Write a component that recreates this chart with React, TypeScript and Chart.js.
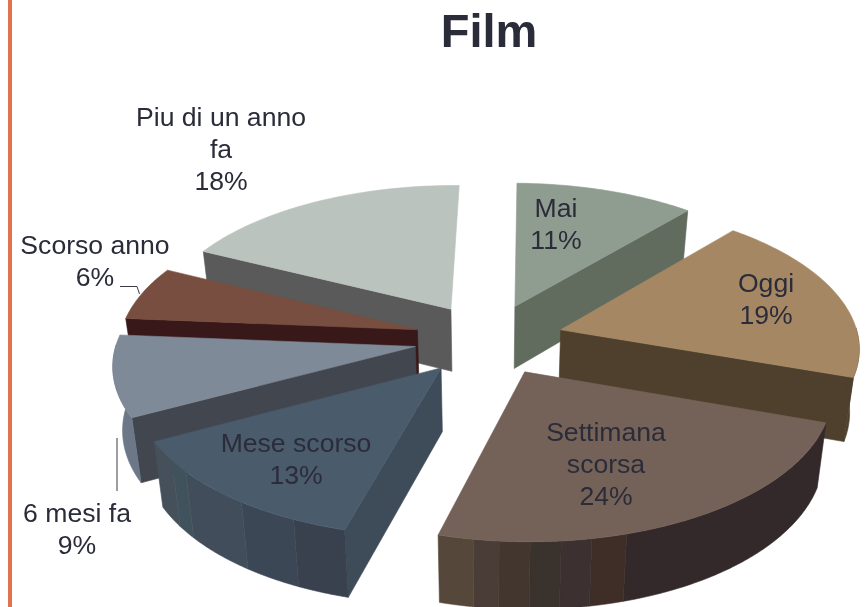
import React, { useEffect, useRef } from "react";
import { Chart, registerables } from "chart.js";

Chart.register(...registerables);

const categories = ["Mai", "Oggi", "Settimana scorsa", "Mese scorso", "6 mesi fa", "Scorso anno", "Piu di un anno fa"];
const shares = [11, 19, 24, 13, 9, 6, 18];

const topColors = ["#8f9c90", "#a58863", "#746258", "#4a5b6c", "#7f8a99", "#774e40", "#bac3be"];
const cutColors = ["#616c5f", "#4e402c", "#33282a", "#3e4b58", "#41464f", "#381818", "#5a5a5a"];
// [fraction of the slice's arc at which the band ends, band colour]
const rimBands: [number, string][][] = [
  [[1, "#616c5f"]],
  [[1, "#4e402c"]],
  [[0.63, "#33282a"], [0.7, "#3f2e28"], [0.76, "#3c3130"], [0.82, "#3a322c"], [0.88, "#42362f"], [0.93, "#4a3d38"], [1, "#55473a"]],
  [[0.2, "#39414f"], [0.43, "#3c4756"], [0.74, "#414d5a"], [0.84, "#40535c"], [1, "#45505a"]],
  [[1, "#6c7787"]],
  [[1, "#381818"]],
  [[1, "#5a5a5a"]],
];
const paintOrder = [6, 0, 5, 1, 4, 3, 2];

const labelLines = [["Mai", "11%"], ["Oggi", "19%"], ["Settimana", "scorsa", "24%"], ["Mese scorso", "13%"], ["6 mesi fa", "9%"], ["Scorso anno", "6%"], ["Piu di un anno", "fa", "18%"]];
const labelAnchors = [[556, 210], [766, 285], [606, 434], [296, 445], [77, 515], [95, 247], [221, 119]];
const leaders = [[[120, 286.5], [137, 286.5], [139.5, 294]], [[117, 438], [117, 491]]];

const SCALE_X = 298;
const SCALE_Y = 143.5;
const PERSPECTIVE = 0.11;
const DEPTH = 63;
const DEPTH_PERSPECTIVE = 0.06;
const CONVERGE = 0.974;
const TEXT = "#2b2c3a";
const FONT = '26.6px "Liberation Sans", Arial, sans-serif';

const pie3d = {
  id: "pie3d",
  beforeDatasetsDraw(chart: any) {
    const ctx = chart.ctx;
    const arcs = chart.getDatasetMeta(0).data;
    const poly = (pts: number[][], color: string) => {
      ctx.beginPath();
      pts.forEach((p, i) => (i ? ctx.lineTo(p[0], p[1]) : ctx.moveTo(p[0], p[1])));
      ctx.closePath();
      ctx.fillStyle = color;
      ctx.strokeStyle = color;
      ctx.lineWidth = 0.6;
      ctx.fill();
      ctx.stroke();
    };
    for (const i of paintOrder) {
      const arc = arcs[i];
      const { x: cx, y: cy, startAngle, endAngle, outerRadius } = arc.getProps(["x", "y", "startAngle", "endAngle", "outerRadius"], true);
      const e = arc.options.offset / 4 / outerRadius;
      const mid = (startAngle + endAngle) / 2;
      const u0 = Math.cos(mid) * e;
      const v0 = Math.sin(mid) * e;
      const top = (u: number, v: number) => {
        const f = 1 / (1 - PERSPECTIVE * v);
        return [cx + SCALE_X * u * f, cy + SCALE_Y * v * f];
      };
      const bottom = (u: number, v: number) => {
        const p = top(u, v);
        return [cx + (p[0] - cx) * CONVERGE, p[1] + DEPTH * (1 + DEPTH_PERSPECTIVE * v)];
      };
      const at = (a: number): [number, number] => [u0 + Math.cos(a), v0 + Math.sin(a)];
      const span = endAngle - startAngle;
      const STEPS = Math.ceil((span * 180) / Math.PI);

      // cut faces that turn towards the viewer
      if (-Math.cos(startAngle) > 0.05) {
        const [u, v] = at(startAngle);
        poly([top(u0, v0), top(u, v), bottom(u, v), bottom(u0, v0)], cutColors[i]);
      }
      if (Math.cos(endAngle) > 0.05) {
        const [u, v] = at(endAngle);
        poly([top(u0, v0), top(u, v), bottom(u, v), bottom(u0, v0)], cutColors[i]);
      }
      // outer rim, band by band
      let from = 0;
      for (const [to, color] of rimBands[i]) {
        const up: number[][] = [];
        const down: number[][] = [];
        for (let s = 0; s <= STEPS; s++) {
          const fr = from + ((to - from) * s) / STEPS;
          const a = startAngle + span * fr;
          if (Math.sin(a) < -0.02) continue;
          const [u, v] = at(a);
          up.push(top(u, v));
          down.unshift(bottom(u, v));
        }
        if (up.length > 1) poly(up.concat(down), color);
        from = to;
      }
      // top surface
      const face: number[][] = [top(u0, v0)];
      for (let s = 0; s <= STEPS; s++) {
        const [u, v] = at(startAngle + (span * s) / STEPS);
        face.push(top(u, v));
      }
      poly(face, topColors[i]);
    }
    return false;
  },
  afterDraw(chart: any) {
    const ctx = chart.ctx;
    ctx.save();
    ctx.fillStyle = TEXT;
    ctx.font = FONT;
    ctx.textAlign = "center";
    ctx.textBaseline = "middle";
    labelLines.forEach((lines, i) => {
      lines.forEach((line, j) => ctx.fillText(line, labelAnchors[i][0], labelAnchors[i][1] + j * 32));
    });
    ctx.strokeStyle = "#3a3a44";
    ctx.lineWidth = 1;
    leaders.forEach((pts) => {
      ctx.beginPath();
      pts.forEach((p, i) => (i ? ctx.lineTo(p[0], p[1]) : ctx.moveTo(p[0], p[1])));
      ctx.stroke();
    });
    ctx.restore();
  },
};

export default function App() {
  const ref = useRef<HTMLCanvasElement>(null);
  useEffect(() => {
    const chart = new Chart(ref.current as HTMLCanvasElement, {
      type: "pie",
      data: {
        labels: categories,
        datasets: [{ data: shares, backgroundColor: topColors, borderWidth: 0, offset: 179 }],
      },
      options: {
        animation: false,
        responsive: false,
        rotation: 1,
        layout: { padding: { left: 110 } },
        plugins: {
          legend: { display: false },
          tooltip: { enabled: false },
          title: {
            display: true,
            text: "Film",
            color: TEXT,
            font: { family: '"Liberation Sans", Arial, sans-serif', size: 47, weight: "bold" },
            padding: { top: 6, bottom: 9 },
          },
        },
      },
      plugins: [pie3d],
    } as any);
    return () => chart.destroy();
  }, []);
  return (
    <>
      <div style={{ position: "fixed", left: 8, top: 0, width: 4, height: 607, background: "#e3724f" }} />
      <canvas ref={ref} width={868} height={607} style={{ position: "fixed", left: 0, top: 0 }} />
    </>
  );
}
